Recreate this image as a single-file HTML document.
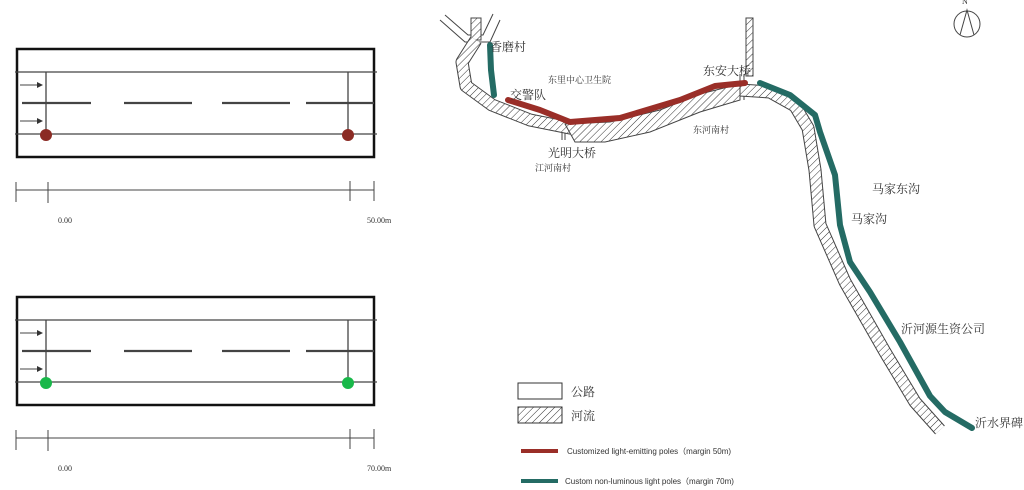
<!DOCTYPE html>
<html><head><meta charset="utf-8"><style>
html,body{margin:0;padding:0;background:#fff;}
svg{display:block;}
text{font-family:"Liberation Serif","Noto Serif CJK SC",serif;fill:#333;}
</style></head><body>
<svg width="1024" height="490" viewBox="0 0 1024 490" xmlns="http://www.w3.org/2000/svg">
<defs>
<pattern id="h" width="5" height="5" patternUnits="userSpaceOnUse" patternTransform="rotate(45)">
<rect width="5" height="5" fill="#fff"/><line x1="0" y1="0" x2="0" y2="5" stroke="#333" stroke-width="1"/>
</pattern>
<marker id="ar" markerWidth="6" markerHeight="6" refX="5" refY="3" orient="auto"><path d="M0,0 L6,3 L0,6z" fill="#333"/></marker>
</defs>

<!-- top diagram -->
<g stroke="#444" fill="none">
<rect x="17" y="49" width="357" height="108" stroke="#111" stroke-width="2.5"/>
<line x1="15" y1="72" x2="377" y2="72" stroke-width="1.3"/>
<line x1="15" y1="134" x2="377" y2="134" stroke-width="1.3"/>
<g stroke-width="2.2"><line x1="22" y1="103" x2="91" y2="103"/><line x1="124" y1="103" x2="192" y2="103"/><line x1="222" y1="103" x2="290" y2="103"/><line x1="306" y1="103" x2="374" y2="103"/></g>
<line x1="46" y1="72" x2="46" y2="134" stroke-width="1.3"/>
<line x1="348" y1="72" x2="348" y2="134" stroke-width="1.3"/>
<line x1="20" y1="85" x2="42" y2="85" marker-end="url(#ar)"/>
<line x1="20" y1="121" x2="42" y2="121" marker-end="url(#ar)"/>
<line x1="16" y1="190" x2="374" y2="190"/>
<line x1="16" y1="182" x2="16" y2="202"/><line x1="48" y1="182" x2="48" y2="203"/><line x1="350" y1="181" x2="350" y2="201"/><line x1="374" y1="181" x2="374" y2="201"/>
</g>
<circle cx="46" cy="135" r="6" fill="#8b2b24"/><circle cx="348" cy="135" r="6" fill="#8b2b24"/>
<text x="58" y="223" font-size="8">0.00</text><text x="367" y="223" font-size="8">50.00m</text>

<!-- bottom diagram -->
<g stroke="#444" fill="none">
<rect x="17" y="297" width="357" height="108" stroke="#111" stroke-width="2.5"/>
<line x1="15" y1="320" x2="377" y2="320" stroke-width="1.3"/>
<line x1="15" y1="382" x2="377" y2="382" stroke-width="1.3"/>
<g stroke-width="2.2"><line x1="22" y1="351" x2="91" y2="351"/><line x1="124" y1="351" x2="192" y2="351"/><line x1="222" y1="351" x2="290" y2="351"/><line x1="306" y1="351" x2="374" y2="351"/></g>
<line x1="46" y1="320" x2="46" y2="382" stroke-width="1.3"/>
<line x1="348" y1="320" x2="348" y2="382" stroke-width="1.3"/>
<line x1="20" y1="333" x2="42" y2="333" marker-end="url(#ar)"/>
<line x1="20" y1="369" x2="42" y2="369" marker-end="url(#ar)"/>
<line x1="16" y1="438" x2="374" y2="438"/>
<line x1="16" y1="430" x2="16" y2="450"/><line x1="48" y1="430" x2="48" y2="451"/><line x1="350" y1="429" x2="350" y2="449"/><line x1="374" y1="429" x2="374" y2="449"/>
</g>
<circle cx="46" cy="383" r="6" fill="#19b84a"/><circle cx="348" cy="383" r="6" fill="#19b84a"/>
<text x="58" y="471" font-size="8">0.00</text><text x="367" y="471" font-size="8">70.00m</text>

<!-- map: roads top-left -->
<g stroke="#444" fill="none" stroke-width="1">
<polyline points="440,20 465,42 490,42 500,20"/>
<polyline points="445,15 468,35 483,35 493,14"/>
<rect x="471" y="18" width="10" height="22" fill="url(#h)"/>
<rect x="746" y="18" width="7" height="58" fill="url(#h)"/>
<line x1="744" y1="74" x2="744" y2="100"/><line x1="740" y1="74" x2="740" y2="100"/>
<line x1="562" y1="125" x2="562" y2="140"/><line x1="565" y1="125" x2="565" y2="140"/>
</g>
<!-- river band -->
<path d="M476,40 L462,62 L466,86 L492,105 L530,120 L570,128 L610,130 L650,122 L700,104 L740,90 L770,92 L795,106 L808,128 L815,170 L820,225 L845,282 L885,352 L915,402 L940,430" fill="none" stroke="#444" stroke-width="13" stroke-linejoin="round"/>
<path d="M476,40 L462,62 L466,86 L492,105 L530,120 L570,128 L610,130 L650,122 L700,104 L740,90 L770,92 L795,106 L808,128 L815,170 L820,225 L845,282 L885,352 L915,402 L940,430" fill="none" stroke="url(#h)" stroke-width="11" stroke-linejoin="round"/>
<path d="M565,124 L610,122 L660,110 L700,94 L740,84 L740,100 L700,112 L650,132 L605,142 L575,142 Z" fill="url(#h)" stroke="#444" stroke-width="1"/>
<!-- poles -->
<polyline points="508,100 540,110 570,122 620,118 680,100 715,86 745,83" fill="none" stroke="#9a2e28" stroke-width="6" stroke-linejoin="round" stroke-linecap="round"/>
<polyline points="490,45 491,70 494,95" fill="none" stroke="#246b64" stroke-width="6" stroke-linecap="round"/>
<polyline points="760,83 790,95 815,115 820,132 835,175 840,225 850,262 870,292 900,342 930,396 945,412 972,428" fill="none" stroke="#246b64" stroke-width="6" stroke-linejoin="round" stroke-linecap="round"/>
<!-- labels -->
<g font-size="12">
<text x="490" y="51">香磨村</text><text x="510" y="99">交警队</text><text x="703" y="75">东安大桥</text>
<text x="548" y="157">光明大桥</text><text x="872" y="193">马家东沟</text><text x="851" y="223">马家沟</text>
<text x="901" y="333">沂河源生资公司</text><text x="975" y="427">沂水界碑</text>
</g>
<g font-size="9"><text x="548" y="83">东里中心卫生院</text><text x="535" y="171">江河南村</text><text x="693" y="133">东河南村</text></g>
<!-- north -->
<circle cx="967" cy="24" r="13" fill="none" stroke="#444"/>
<polyline points="960,35 967,10 974,35" fill="none" stroke="#444"/>
<text x="962" y="4" font-size="8">N</text>
<!-- legend -->
<rect x="518" y="383" width="44" height="16" fill="none" stroke="#333"/>
<text x="571" y="396" font-size="12">公路</text>
<rect x="518" y="407" width="44" height="16" fill="url(#h)" stroke="#333"/>
<text x="571" y="420" font-size="12">河流</text>
<line x1="521" y1="451" x2="558" y2="451" stroke="#9a2e28" stroke-width="4"/>
<text x="567" y="454" font-size="8" style="font-family:'Liberation Sans',sans-serif">Customized light-emitting poles（margin 50m)</text>
<line x1="521" y1="481" x2="558" y2="481" stroke="#246b64" stroke-width="4"/>
<text x="565" y="484" font-size="8" style="font-family:'Liberation Sans',sans-serif">Custom non-luminous light poles（margin 70m)</text>
</svg>
</body></html>
